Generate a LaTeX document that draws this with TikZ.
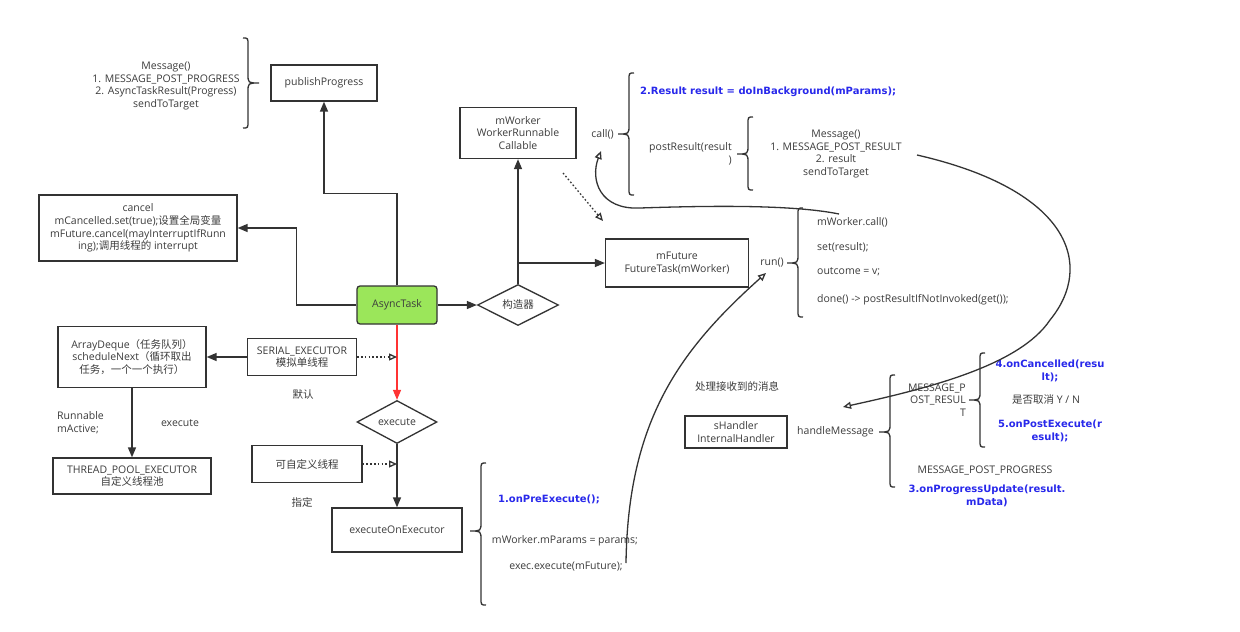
\documentclass[tikz,border=0pt]{standalone}
\usepackage{fontspec}
\setmainfont{Open Sans}
\newfontfamily\cjk{Noto Sans CJK SC}
\newfontfamily\dvs{DejaVu Sans}
\usetikzlibrary{arrows.meta,shapes.geometric}
\definecolor{linec}{RGB}{51,51,51}
\definecolor{txt}{RGB}{60,60,60}
\definecolor{blue1}{RGB}{40,40,235}
\definecolor{green1}{RGB}{155,230,90}
\definecolor{red1}{RGB}{255,51,51}
\newcommand\zh[1]{{\cjk #1}}
\newcommand\curly[5]{%
 \draw[bracestyle] ({#1+5*(#5)},#2) .. controls (#1,#2) .. (#1,{#2+7}) -- (#1,{#4-9}) .. controls (#1,#4) .. ({#1-11*(#5)},#4) .. controls (#1,#4) .. (#1,{#4+9}) -- (#1,{#3-7}) .. controls (#1,#3) .. ({#1+5*(#5)},#3);}
\tikzset{
 base/.style={font={\fontsize{10.5}{12.7}\selectfont}, text=txt},
 box/.style={base, draw=linec, line width=1.3pt, fill=white, align=center, inner sep=2pt},
 dia/.style={base, diamond, draw=linec, line width=1.3pt, fill=white, aspect=2, inner sep=0pt},
 lbl/.style={base, align=center, inner sep=0pt},
 blu/.style={font={\dvs\bfseries\fontsize{10}{12.5}\selectfont}, text=blue1, align=center, inner sep=0pt},
 arr/.style={draw=linec, line width=1.4pt, -{Triangle[length=10pt,width=8pt]}},
 redarr/.style={draw=red1, line width=1.4pt, -{Triangle[length=10pt,width=8pt]}},
 oarr/.style={draw=linec, line width=1.3pt, -{Triangle[open,length=8pt,width=7pt]}},
 dotarr/.style={oarr, dash pattern=on 1.6pt off 2.2pt},
 bracestyle/.style={draw=linec, line width=1.3pt},
}
\begin{document}
\begin{tikzpicture}[x=1pt,y=-1pt]
\fill[white] (0,0) rectangle (1240,632);
\useasboundingbox (0,0) rectangle (1240,632);

% boxes
\node[box, minimum width=106pt, minimum height=36pt] (pub) at (324,83) {publishProgress};
\node[box, minimum width=198pt, minimum height=66pt] (cancel) at (138,228) {cancel\\mCancelled.set(true);\zh{设置全局变量}\\mFuture.cancel(mayInterruptIfRunn\\ing);\zh{调用线程的} interrupt};
\node[box, fill=green1, rounded corners=3pt, minimum width=80pt, minimum height=38pt] (async) at (397,305) {AsyncTask};
\node[dia, minimum width=81pt, minimum height=41pt] (ctor) at (518,305) {\zh{构造器}};
\node[box, minimum width=116pt, minimum height=51pt] (mworker) at (518,133) {mWorker\\WorkerRunnable\\Callable};
\node[box, minimum width=143pt, minimum height=48pt] (mfuture) at (677,263) {mFuture\\FutureTask(mWorker)};
\node[box, minimum width=109pt, minimum height=37pt] (serial) at (302,357) {SERIAL\_EXECUTOR\\\zh{模拟单线程}};
\node[box, minimum width=148pt, minimum height=61pt] (deque) at (132,357) {ArrayDeque\zh{（任务队列）}\\scheduleNext\zh{（循环取出}\\\zh{任务，一个一个执行）}};
\node[box, minimum width=158pt, minimum height=36pt] (pool) at (132,476) {THREAD\_POOL\_EXECUTOR\\\zh{自定义线程池}};
\node[dia, minimum width=80pt, minimum height=43pt] (exec) at (397,422) {execute};
\node[box, minimum width=110pt, minimum height=37pt] (custom) at (307,464) {\zh{可自定义线程}};
\node[box, minimum width=130pt, minimum height=44pt] (eoe) at (397,530) {executeOnExecutor};
\node[box, minimum width=102pt, minimum height=32pt] (shandler) at (736,432) {sHandler\\InternalHandler};

% labels
\node[lbl] (msgprog) at (166,86) {Message()\\1. MESSAGE\_POST\_PROGRESS\\2. AsyncTaskResult(Progress)\\sendToTarget};
\node[lbl, align=left, anchor=west] (runnable) at (57,423) {Runnable\\mActive;};
\node[lbl] (execlbl) at (180,423) {execute};
\node[lbl] (moren) at (303,395) {\zh{默认}};
\node[lbl] (zhiding) at (302,502) {\zh{指定}};
\node[blu] (pre) at (549,499) {1.onPreExecute();};
\node[lbl] (params) at (565,541) {mWorker.mParams = params;};
\node[lbl] (execfut) at (566,567) {exec.execute(mFuture);};
\node[lbl, anchor=east] (runlbl) at (784,263) {run()};
\node[lbl, anchor=west] (r1) at (817,222) {mWorker.call()};
\node[lbl, anchor=west] (r2) at (817,247) {set(result);};
\node[lbl, anchor=west] (r3) at (817,272) {outcome = v;};
\node[lbl, anchor=west] (r4) at (817,300) {done() -> postResultIfNotInvoked(get());};
\node[lbl, anchor=east] (calllbl) at (614,134) {call()};
\node[blu, anchor=west] (doin) at (640,92) {2.Result result = doInBackground(mParams);};
\node[lbl, align=right, anchor=east] (postres) at (732,154) {postResult(result\\)};
\node[lbl] (msgres) at (836,154) {Message()\\1. MESSAGE\_POST\_RESULT\\2. result\\sendToTarget};
\node[lbl, anchor=east] (handlelbl) at (874,432) {handleMessage};
\node[lbl] (chuli) at (737,386) {\zh{处理接收到的消息}};
\node[lbl, align=right, anchor=east] (mpr) at (966,400) {MESSAGE\_P\\OST\_RESUL\\T};
\node[blu] (canc) at (1050,371) {4.onCancelled(resu\\lt);};
\node[lbl] (yn) at (1046,400) {\zh{是否取消} Y / N};
\node[blu] (postex) at (1050,431) {5.onPostExecute(r\\esult);};
\node[lbl] (mpp) at (985,470) {MESSAGE\_POST\_PROGRESS};
\node[blu] (prog) at (987,496) {3.onProgressUpdate(result.\\mData)};

% braces
\curly{248}{38}{128}{83}{-1}
\curly{629}{73}{195}{134}{1}
\curly{748}{117}{190}{154}{1}
\curly{798}{208}{317}{263}{1}
\curly{481}{463}{605}{531}{1}
\curly{890}{375}{487}{432}{1}
\curly{980}{353}{447}{400}{1}

% connectors
\draw[arr] (async.north) -- ++(0,-92) -| (pub.south);
\draw[arr] (async.west) -- ++(-60,0) |- (cancel.east);
\draw[arr] (async.east) -- (ctor.west);
\draw[arr] (ctor.north) -- (mworker.south);
\coordinate (br) at (518,263);
\draw[arr] (br) -- (mfuture.west);
\coordinate (dA) at (563,173);
\coordinate (dB) at (603,221);
\draw[dotarr] (dA) -- (dB);
\draw[arr] (serial.west) -- (deque.east);
\draw[redarr] (async.south) -- (exec.north);
\coordinate (sEnd) at (397,357);
\draw[dotarr] (serial.east) -- (sEnd);
\draw[arr] (deque.south) -- (pool.north);
\draw[arr] (exec.south) -- (eoe.north);
\coordinate (cEnd) at (397,464);
\draw[dotarr] (custom.east) -- (cEnd);

\coordinate (c1s) at (626,563);
\coordinate (c1e) at (766,273);
\draw[oarr] (c1s) .. controls (628,420) and (680,350) .. (c1e);
\coordinate (c2s) at (839,214);
\coordinate (c2e) at (601,151);
\draw[oarr] (c2s) .. controls (790,204) and (700,206) .. (640,208) .. controls (600,210) and (590,180) .. (c2e);
\coordinate (c3s) at (917,155);
\coordinate (c3e) at (843,407);
\draw[oarr] (c3s) .. controls (1070,190) and (1095,265) .. (1050,320) .. controls (1020,365) and (930,388) .. (c3e);
\end{tikzpicture}
\end{document}
